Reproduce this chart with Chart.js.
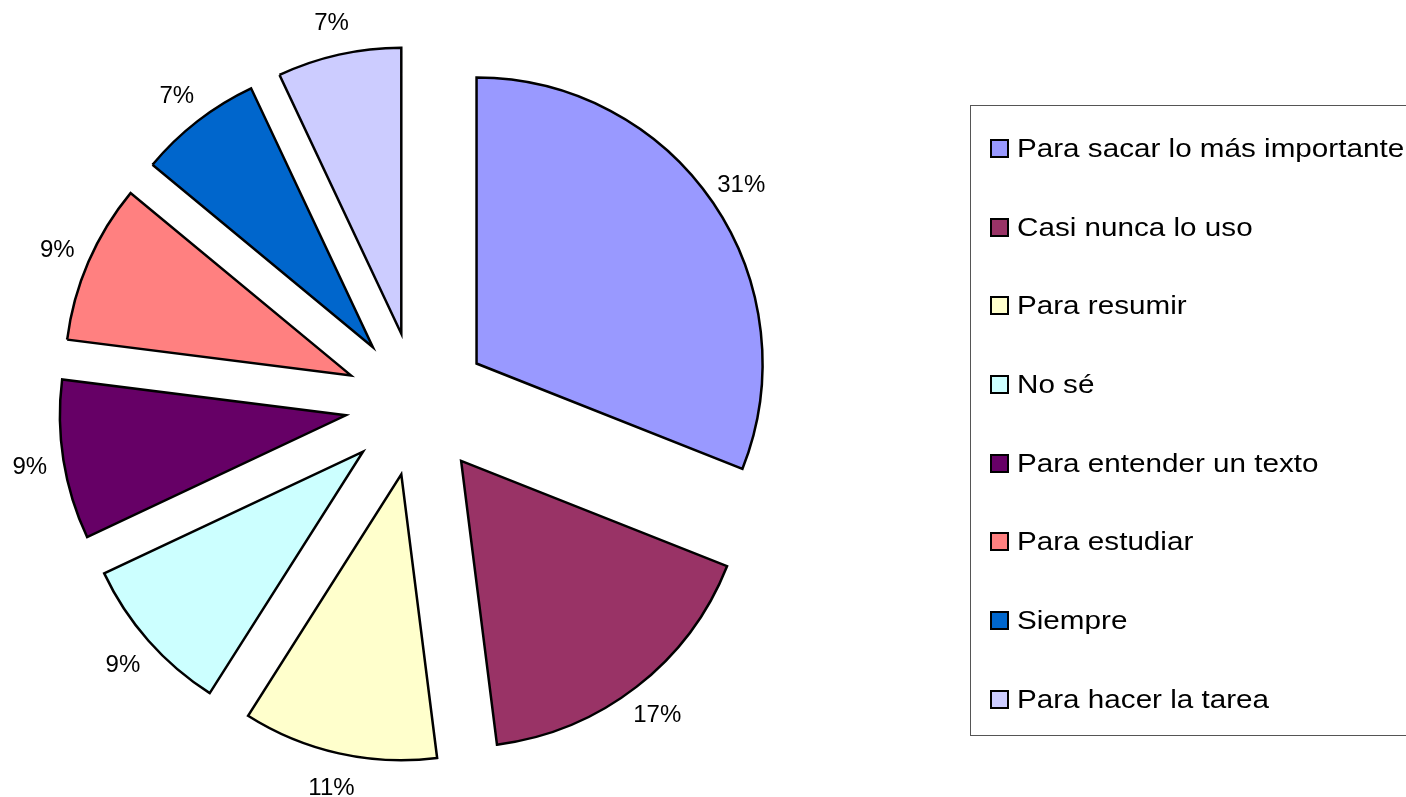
<!DOCTYPE html>
<html lang="es">
<head>
<meta charset="utf-8">
<title>Uso del resumen</title>
<script src="https://cdn.jsdelivr.net/npm/chart.js"></script>
<style>
    html, body {
        margin: 0;
        padding: 0;
        background: #fff;
        overflow: hidden;
    }
    #wrap {
        position: relative;
        width: 1406px;
        height: 797px;
        overflow: hidden;
    }
    #pieChart {
        position: absolute;
        left: 0;
        top: 0;
    }
    #legend {
        position: absolute;
        left: 970px;
        top: 105px;
        width: 520px;
        height: 631px;
        border: 1px solid #555;
        box-sizing: border-box;
        padding-top: 3px;
        font-family: "Liberation Sans", Arial, sans-serif;
        font-size: 26px;
        color: #000;
    }
    .legend-item {
        display: flex;
        align-items: center;
        height: 78.7px;
        padding-left: 19px;
        white-space: nowrap;
    }
    .legend-box {
        width: 15px;
        height: 15px;
        border: 2px solid #000;
        margin-right: 8px;
        flex: none;
    }
    .legend-text {
        display: inline-block;
        transform: scaleX(1.14);
        transform-origin: left center;
    }
</style>
</head>
<body>
<div id="wrap">
    <canvas id="pieChart" width="1406" height="797"></canvas>
    <div id="legend"></div>
</div>
<script>
// Categories, in the order the slices go clockwise from 12 o'clock
const categories = [
    'Para sacar lo más importante',
    'Casi nunca lo uso',
    'Para resumir',
    'No sé',
    'Para entender un texto',
    'Para estudiar',
    'Siempre',
    'Para hacer la tarea'
];

// Share of answers (%)
const shares = [31, 17, 11, 9, 9, 9, 7, 7];

const sliceColors = [
    '#9999FF', '#993366', '#FFFFCC', '#CCFFFF',
    '#660066', '#FF8080', '#0066CC', '#CCCCFF'
];

// How far each slice is pulled out from the centre, and where the labels sit
const EXPLODE = 72;
const LABEL_GAP = 34;

// Pull every slice out along its middle angle
const explodePlugin = {
    id: 'explode',
    beforeDatasetsDraw(chart) {
        chart.getDatasetMeta(0).data.forEach(arc => {
            if (arc.explodeWrapped) return;
            const baseDraw = arc.draw;
            arc.draw = function (ctx) {
                const mid = (this.startAngle + this.endAngle) / 2;
                ctx.save();
                ctx.translate(Math.cos(mid) * EXPLODE, Math.sin(mid) * EXPLODE);
                baseDraw.call(this, ctx);
                ctx.restore();
            };
            arc.explodeWrapped = true;
        });
    }
};

// Percentage labels outside each slice
const percentLabels = {
    id: 'percentLabels',
    afterDatasetsDraw(chart) {
        const ctx = chart.ctx;
        const values = chart.data.datasets[0].data;
        const total = values.reduce((sum, v) => sum + v, 0);

        ctx.save();
        ctx.font = '24px "Liberation Sans", Arial, sans-serif';
        ctx.fillStyle = '#000';
        ctx.textAlign = 'center';
        ctx.textBaseline = 'middle';
        chart.getDatasetMeta(0).data.forEach((arc, i) => {
            const mid = (arc.startAngle + arc.endAngle) / 2;
            const dist = arc.outerRadius + EXPLODE + LABEL_GAP;
            const text = Math.round(values[i] / total * 100) + '%';
            ctx.fillText(text, arc.x + Math.cos(mid) * dist, arc.y + Math.sin(mid) * dist + 2);
        });
        ctx.restore();
    }
};

const ctx = document.getElementById('pieChart').getContext('2d');
new Chart(ctx, {
    type: 'pie',
    data: {
        labels: categories,
        datasets: [{
            data: shares,
            backgroundColor: sliceColors,
            borderColor: '#000',
            borderWidth: 2.5,
            borderJoinStyle: 'miter',
            clip: false
        }]
    },
    options: {
        responsive: false,
        animation: false,
        events: [],
        radius: 286,
        layout: {
            padding: { left: 0, right: 572, top: 11, bottom: 0 }
        },
        plugins: {
            legend: { display: false },
            tooltip: { enabled: false }
        }
    },
    plugins: [explodePlugin, percentLabels]
});

// Legend on the right
const legend = document.getElementById('legend');
categories.forEach((name, i) => {
    const item = document.createElement('div');
    item.className = 'legend-item';
    const box = document.createElement('span');
    box.className = 'legend-box';
    box.style.background = sliceColors[i];
    const label = document.createElement('span');
    label.className = 'legend-text';
    label.textContent = name;
    item.appendChild(box);
    item.appendChild(label);
    legend.appendChild(item);
});
</script>
</body>
</html>
